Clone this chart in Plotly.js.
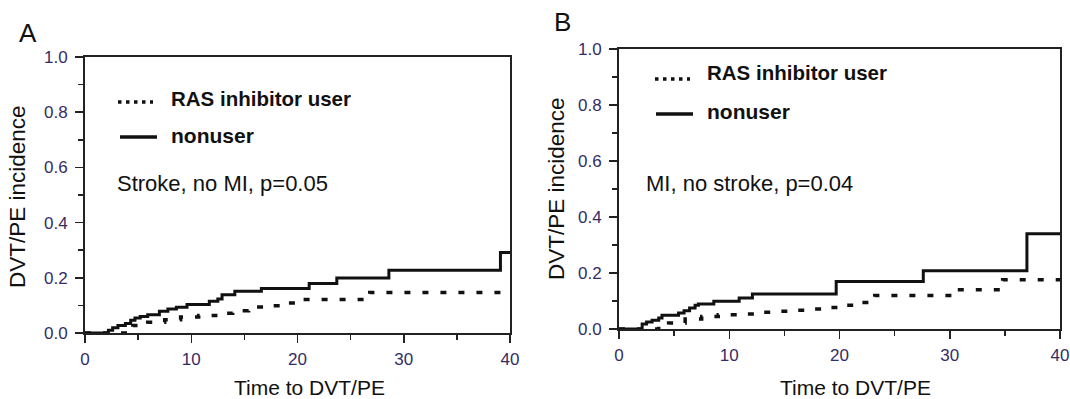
<!DOCTYPE html>
<html>
<head>
<meta charset="utf-8">
<script src="https://cdn.plot.ly/plotly-3.0.1.min.js"></script>
<style>
  html, body { margin: 0; padding: 0; background: #fff; }
  #chart { width: 1070px; height: 399px; }
</style>
</head>
<body>
<div id="chart"></div>
<script>
// ---- Data ----
// Panel A: Stroke, no MI
const tA_non  = [0, 2.2, 2.6, 3.1, 3.8, 4.3, 4.7, 5.2, 5.9, 7.0, 7.8, 8.6, 9.6, 11.7, 12.5, 12.9, 14.1, 16.6, 21.1, 23.7, 28.6, 39.1, 40];
const vA_non  = [0, 0.010, 0.019, 0.027, 0.034, 0.046, 0.054, 0.060, 0.066, 0.079, 0.087, 0.093, 0.103, 0.115, 0.123, 0.139, 0.151, 0.161, 0.179, 0.199, 0.227, 0.292, 0.292];
const tA_user = [0, 4.5, 5.9, 7.5, 9.0, 10.7, 12.3, 13.9, 15.4, 17.0, 18.5, 20.0, 26.8, 40];
const vA_user = [0, 0.027, 0.039, 0.048, 0.058, 0.063, 0.072, 0.081, 0.094, 0.099, 0.109, 0.121, 0.147, 0.147];
// Panel B: MI, no stroke
const tB_non  = [0, 2.1, 2.5, 3.0, 3.6, 3.9, 5.4, 5.9, 6.4, 6.9, 7.2, 8.6, 10.9, 12.1, 19.7, 27.6, 37.0, 40];
const vB_non  = [0, 0.018, 0.025, 0.031, 0.039, 0.049, 0.057, 0.065, 0.075, 0.085, 0.089, 0.099, 0.111, 0.125, 0.170, 0.208, 0.340, 0.340];
const tB_user = [0, 3.6, 4.5, 6.0, 7.5, 9.0, 10.7, 12.3, 14.0, 15.6, 17.2, 19.0, 20.5, 22.0, 23.2, 30.2, 34.8, 40];
const vB_user = [0, 0.010, 0.021, 0.036, 0.045, 0.051, 0.054, 0.060, 0.063, 0.067, 0.071, 0.077, 0.085, 0.095, 0.120, 0.140, 0.176, 0.176];

const seriesNames = ['RAS inhibitor user', 'nonuser'];
const panelLabels = ['A', 'B'];
const panelNotes = ['Stroke, no MI, p=0.05', 'MI, no stroke, p=0.04'];
const xTitle = 'Time to DVT/PE';
const yTitle = 'DVT/PE incidence';
const xTickVals = [0, 10, 20, 30, 40];
const yTickVals = [0, 0.2, 0.4, 0.6, 0.8, 1.0];

// ---- Styling ----
const W = 1070, H = 399;
const FONT = 'Arial, "Liberation Sans", Helvetica, sans-serif';
const LINE = '#111';
const AXIS = '#222';
const TICKCOL = '#352c66';
const px = v => v / W;
const py = v => 1 - v / H;

function mkTrace(x, y, dash, xa, ya, name) {
  return {
    x: x, y: y, type: 'scatter', mode: 'lines', name: name,
    xaxis: xa, yaxis: ya, showlegend: false, hoverinfo: 'skip',
    line: { shape: 'hv', color: LINE, width: dash === 'solid' ? 3 : 3.5, dash: dash }
  };
}

const data = [
  mkTrace(tA_user, vA_user, '6px,12px', 'x', 'y', seriesNames[0]),
  mkTrace(tA_non, vA_non, 'solid', 'x', 'y', seriesNames[1]),
  mkTrace(tB_user, vB_user, '6px,12px', 'x2', 'y2', seriesNames[0]),
  mkTrace(tB_non, vB_non, 'solid', 'x2', 'y2', seriesNames[1])
];

function xAxis(domain, anchor) {
  return {
    domain: domain, anchor: anchor, range: [0, 40],
    tickvals: xTickVals, ticks: 'outside', ticklen: 8, tickwidth: 1.5, tickcolor: AXIS,
    minor: { ticks: 'outside', ticklen: 5, tickwidth: 1.5, tickcolor: AXIS, dtick: 5, showgrid: false },
    showline: true, linecolor: AXIS, linewidth: 2, mirror: true,
    showgrid: false, zeroline: false, ticklabelstandoff: 2,
    tickfont: { family: FONT, size: 17, color: TICKCOL }, fixedrange: true
  };
}
function yAxis(domain, anchor) {
  return {
    domain: domain, anchor: anchor, range: [0, 1],
    tickvals: yTickVals, tickformat: '.1f', ticks: 'outside', ticklen: 8, tickwidth: 1.5, tickcolor: AXIS,
    minor: { ticks: 'outside', ticklen: 5, tickwidth: 1.5, tickcolor: AXIS, dtick: 0.1, showgrid: false },
    showline: true, linecolor: AXIS, linewidth: 2, mirror: true,
    showgrid: false, zeroline: false, ticklabelstandoff: 4,
    tickfont: { family: FONT, size: 17, color: TICKCOL }, fixedrange: true
  };
}

// Panel geometry (pixels)
const P = [
  { x0: 85, x1: 510, y0: 57, y1: 333, lab: [28, 33], note: [115, 183],
    leg: { dotX: [118, 153], dotY: 102, solX: [120, 157], solY: 137, txtX: 169, t1Y: 98, t2Y: 135 },
    xt: [309, 387], yt: [18, 197] },
  { x0: 619, x1: 1060, y0: 49, y1: 329, lab: [562, 22], note: [644, 183],
    leg: { dotX: [655, 690], dotY: 79, solX: [656, 693], solY: 114, txtX: 705, t1Y: 73, t2Y: 111 },
    xt: [855, 387], yt: [557, 189] }
];

const annotations = [];
const shapes = [];
P.forEach((p, i) => {
  annotations.push({ xref: 'paper', yref: 'paper', x: px(p.lab[0]), y: py(p.lab[1]),
    text: panelLabels[i], showarrow: false, xanchor: 'center', yanchor: 'middle',
    font: { family: FONT, size: 26, color: '#111' } });
  annotations.push({ xref: 'paper', yref: 'paper', x: px(p.note[0]), y: py(p.note[1]),
    text: panelNotes[i], showarrow: false, xanchor: 'left', yanchor: 'middle',
    font: { family: FONT, size: 22, color: '#111' } });
  annotations.push({ xref: 'paper', yref: 'paper', x: px(p.leg.txtX), y: py(p.leg.t1Y),
    text: '<b>' + seriesNames[0] + '</b>', showarrow: false, xanchor: 'left', yanchor: 'middle',
    font: { family: FONT, size: 20.5, color: '#111' } });
  annotations.push({ xref: 'paper', yref: 'paper', x: px(p.leg.txtX), y: py(p.leg.t2Y),
    text: '<b>' + seriesNames[1] + '</b>', showarrow: false, xanchor: 'left', yanchor: 'middle',
    font: { family: FONT, size: 21, color: '#111' } });
  annotations.push({ xref: 'paper', yref: 'paper', x: px(p.xt[0]), y: py(p.xt[1]),
    text: xTitle, showarrow: false, xanchor: 'center', yanchor: 'middle',
    font: { family: FONT, size: 21, color: '#111' } });
  annotations.push({ xref: 'paper', yref: 'paper', x: px(p.yt[0]), y: py(p.yt[1]),
    text: yTitle, showarrow: false, xanchor: 'center', yanchor: 'middle', textangle: -90,
    font: { family: FONT, size: 22.5, color: '#111' } });
  shapes.push({ type: 'line', xref: 'paper', yref: 'paper',
    x0: px(p.leg.dotX[0]), x1: px(p.leg.dotX[1]), y0: py(p.leg.dotY), y1: py(p.leg.dotY),
    line: { color: '#111', width: 3.5, dash: '3.5px,4.5px' } });
  shapes.push({ type: 'line', xref: 'paper', yref: 'paper',
    x0: px(p.leg.solX[0]), x1: px(p.leg.solX[1]), y0: py(p.leg.solY), y1: py(p.leg.solY),
    line: { color: '#111', width: 3.5 } });
});

const layout = {
  width: W, height: H,
  margin: { l: 0, r: 0, t: 0, b: 0 },
  paper_bgcolor: '#fff', plot_bgcolor: '#fff',
  showlegend: false,
  xaxis: xAxis([px(P[0].x0), px(P[0].x1)], 'y'),
  yaxis: yAxis([py(P[0].y1), py(P[0].y0)], 'x'),
  xaxis2: xAxis([px(P[1].x0), px(P[1].x1)], 'y2'),
  yaxis2: yAxis([py(P[1].y1), py(P[1].y0)], 'x2'),
  annotations: annotations,
  shapes: shapes
};

Plotly.newPlot('chart', data, layout, { displayModeBar: false, staticPlot: true });
</script>
</body>
</html>
